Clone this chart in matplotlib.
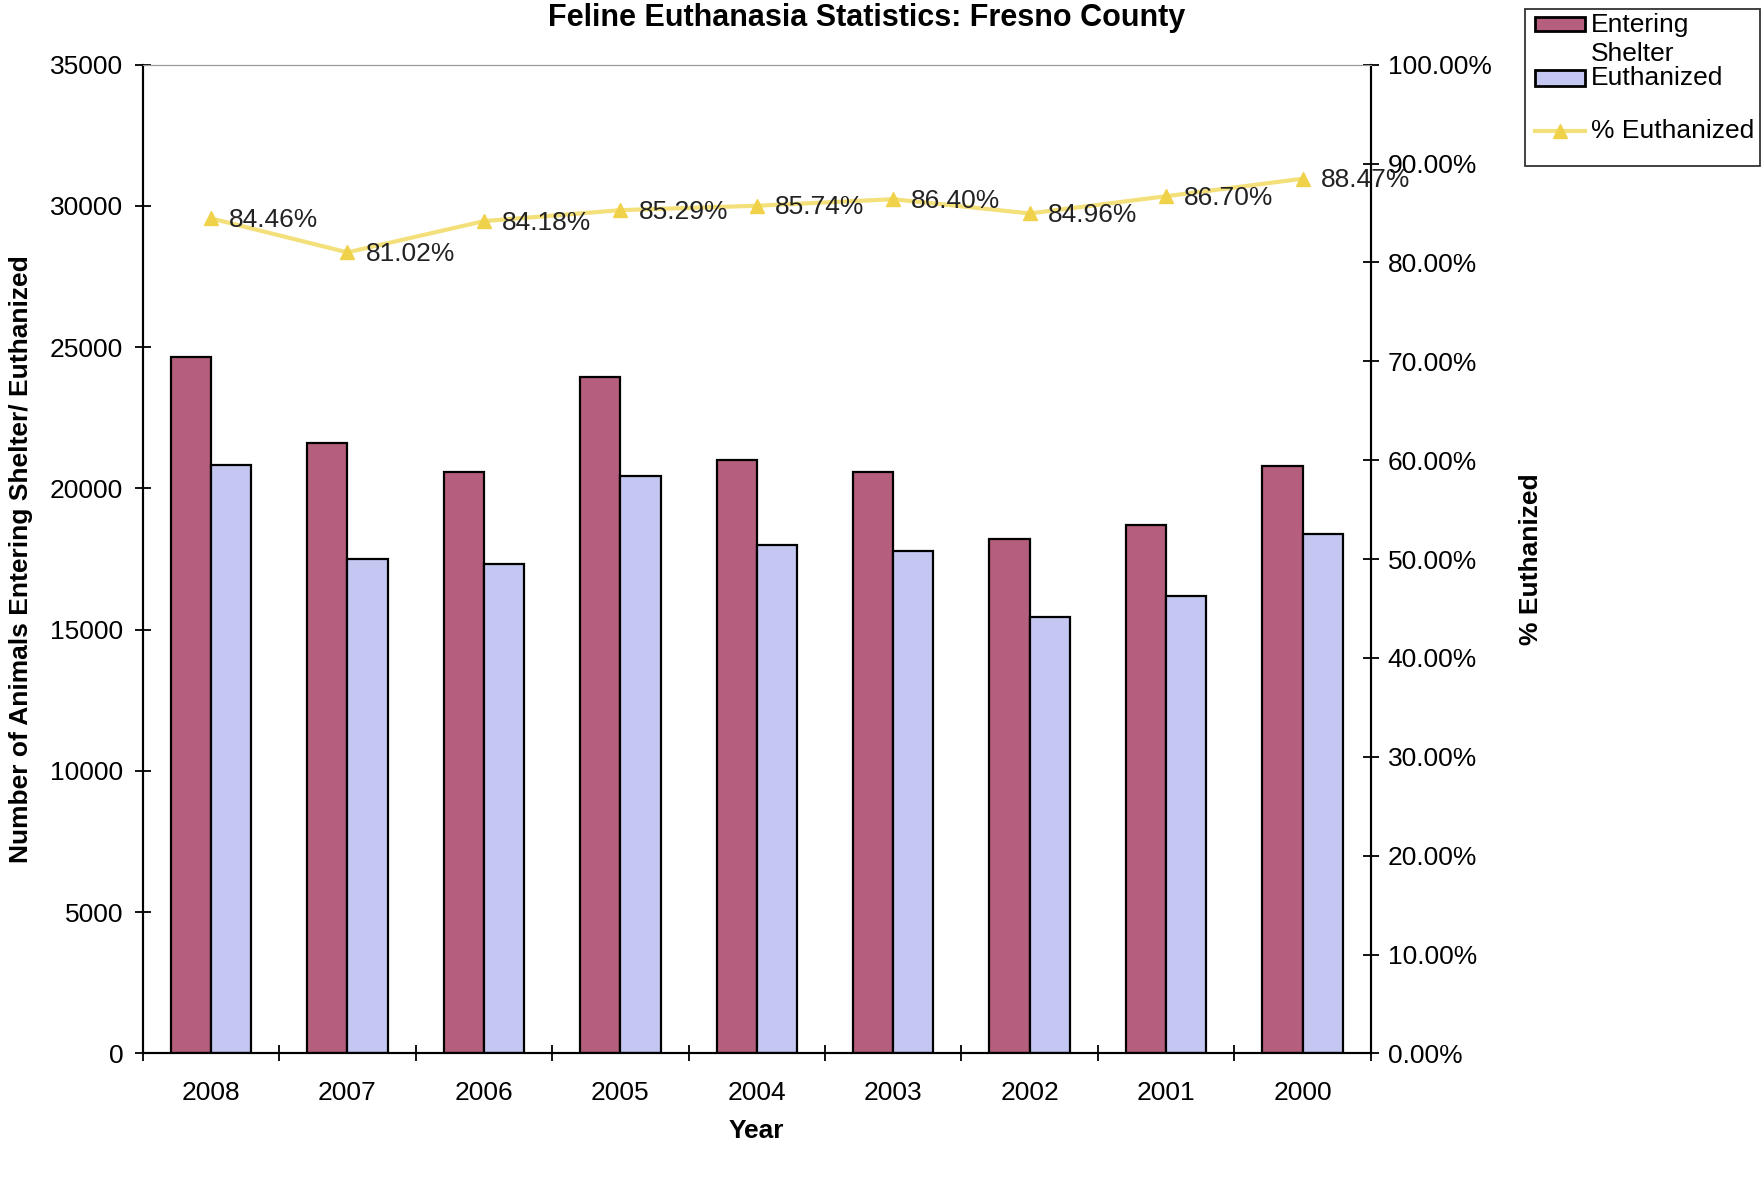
import matplotlib
matplotlib.use("Agg")
import matplotlib.pyplot as plt
import numpy as np
from matplotlib.ticker import FixedLocator
from matplotlib.patches import Rectangle
from matplotlib.lines import Line2D

years = ["2008", "2007", "2006", "2005", "2004", "2003", "2002", "2001", "2000"]
entering = [24650, 21600, 20600, 23950, 21000, 20600, 18200, 18700, 20800]
euthanized = [20820, 17500, 17340, 20430, 18000, 17800, 15460, 16210, 18400]
pct = [84.46, 81.02, 84.18, 85.29, 85.74, 86.40, 84.96, 86.70, 88.47]
left_ticks = [0, 5000, 10000, 15000, 20000, 25000, 30000, 35000]
right_ticks = [0, 10, 20, 30, 40, 50, 60, 70, 80, 90, 100]
series_names = ["Entering\nShelter", "Euthanized", "% Euthanized"]

plt.rcParams['font.family'] = ['Liberation Sans', 'DejaVu Sans']

W, H = 1762, 1177
fig = plt.figure(figsize=(W / 100, H / 100), dpi=100)
ax = fig.add_axes([0.081, 0.105, 0.697, 0.84])
ax2 = ax.twinx()

x = np.arange(len(years))
w = 0.295
c_ent = "#B65E7D"
c_eut = "#C4C7F1"
ax.bar(x - w/2, entering, w, color=c_ent, edgecolor="black", linewidth=1.6, zorder=2)
ax.bar(x + w/2, euthanized, w, color=c_eut, edgecolor="black", linewidth=1.6, zorder=2)

ax.set_xlim(-0.5, len(years) - 0.5)
ax.set_ylim(0, 35000)
ax.yaxis.set_major_locator(FixedLocator(left_ticks))
ax.set_yticklabels([str(v) for v in left_ticks])
ax.set_xticks(x)
ax.set_xticklabels(years)
ax.set_xticks(np.arange(len(years) + 1) - 0.5, minor=True)
ax.tick_params(axis='x', which='major', length=0, labelsize=19, pad=20)
ax.tick_params(axis='x', which='minor', length=12, direction='inout', width=1.3)
ax.tick_params(axis='y', length=12, direction='inout', width=1.3, labelsize=19, pad=8)

ax2.set_ylim(0, 100)
ax2.yaxis.set_major_locator(FixedLocator(right_ticks))
ax2.set_yticklabels([f"{v:.2f}%" for v in right_ticks])
ax2.tick_params(axis='y', length=12, direction='inout', width=1.3, labelsize=19, pad=6)

line_col = "#F4E07A"
mk_col = "#F0D24A"
ax2.plot(x, pct, color=line_col, linewidth=3, marker='^', markersize=10,
         markerfacecolor=mk_col, markeredgecolor=mk_col, zorder=3)
for xi, p in zip(x, pct):
    ax2.annotate(f"{p:.2f}%", (xi, p), xytext=(13, -1), textcoords='offset points',
                 ha='left', va='center', fontsize=19, color="#222222")

for a in (ax, ax2):
    a.spines['top'].set_color("#999999")
    a.spines['top'].set_linewidth(0.8)
    a.spines['left'].set_linewidth(1.5)
    a.spines['right'].set_linewidth(1.5)
    a.spines['bottom'].set_linewidth(1.5)

ax.set_xlabel("Year", fontsize=19, fontweight='bold', labelpad=10)
ax.set_ylabel("Number of Animals Entering Shelter/ Euthanized", fontsize=19, fontweight='bold', labelpad=12)
ax2.set_ylabel("% Euthanized", fontsize=19, fontweight='bold', labelpad=20)

fig.text(0.492, 1 - 26 / H, "Feline Euthanasia Statistics: Fresno County", ha='center', va='baseline',
         fontsize=22, fontweight='bold')

# Manual legend (figure pixel coordinates converted to fractions)
def fx(px):
    return px / W

def fy(py):
    return 1 - py / H

fig.patches.append(Rectangle((fx(1525), fy(166)), fx(1760) - fx(1525), fy(9) - fy(166),
                             transform=fig.transFigure, facecolor="white", edgecolor="#333333",
                             linewidth=1.3, zorder=5))
fig.patches.append(Rectangle((fx(1535), fy(31)), fx(1585) - fx(1535), fy(17) - fy(31),
                             transform=fig.transFigure, facecolor=c_ent, edgecolor="black",
                             linewidth=2, zorder=6))
fig.patches.append(Rectangle((fx(1535), fy(86)), fx(1585) - fx(1535), fy(70) - fy(86),
                             transform=fig.transFigure, facecolor=c_eut, edgecolor="black",
                             linewidth=2, zorder=6))
fig.lines.append(Line2D([fx(1535), fx(1585)], [fy(131), fy(131)], transform=fig.transFigure,
                        color=line_col, linewidth=3, marker=None, zorder=6))
fig.lines.append(Line2D([fx(1560)], [fy(131)], transform=fig.transFigure, color=mk_col,
                        marker='^', markersize=10, linestyle='none', zorder=7))
fig.text(fx(1591), fy(25), "Entering", ha='left', va='center', fontsize=19, zorder=7)
fig.text(fx(1591), fy(54), "Shelter", ha='left', va='center', fontsize=19, zorder=7)
fig.text(fx(1591), fy(78), series_names[1], ha='left', va='center', fontsize=19, zorder=7)
fig.text(fx(1591), fy(131), series_names[2], ha='left', va='center', fontsize=19, zorder=7)

fig.savefig("out.png", dpi=100, facecolor="white")
